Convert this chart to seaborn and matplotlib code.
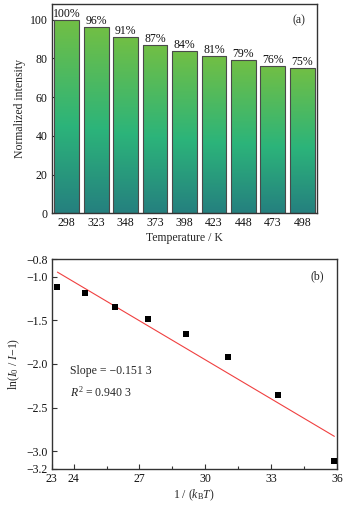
import numpy as np
import pandas as pd
import matplotlib
matplotlib.use("Agg")
import matplotlib.pyplot as plt
import seaborn as sns
from matplotlib.colors import LinearSegmentedColormap

# ---- data ----
temperatures = ["298", "323", "348", "373", "398", "423", "448", "473", "498"]
norm_intensity = [100, 96, 91, 87, 84, 81, 79, 76, 75]

inv_kT = [23.26, 24.50, 25.88, 27.41, 29.11, 31.05, 33.29, 35.88]
ln_ratio = [-1.12, -1.194, -1.351, -1.485, -1.657, -1.918, -2.354, -3.108]

sns.set_theme(style="ticks")
plt.rcParams["font.family"] = ["Liberation Serif", "DejaVu Serif"]
plt.rcParams["mathtext.fontset"] = "custom"
plt.rcParams["mathtext.rm"] = "Liberation Serif"
plt.rcParams["mathtext.it"] = "Liberation Serif:italic"
plt.rcParams["axes.unicode_minus"] = True

FS = 8.5
spine_c = "#333333"

fig = plt.figure(figsize=(3.55, 5.09), dpi=100)
W, H = 355, 509
ax1 = fig.add_axes([52 / W, 1 - 213.3 / H, (317 - 52) / W, (213.3 - 4) / H])
ax2 = fig.add_axes([51.7 / W, 1 - 469 / H, (337 - 51.7) / W, (469 - 259) / H])

# ---- (a) bar chart ----
df1 = pd.DataFrame({"T": temperatures, "I": norm_intensity})
sns.barplot(data=df1, x="T", y="I", ax=ax1, color="#6dbd45", width=0.84,
            edgecolor="#4a4a4a", linewidth=0.8)
cmap = LinearSegmentedColormap.from_list(
    "grad", [(0.0, "#25807f"), (0.45, "#2cb47a"), (1.0, "#72bf44")])
grad = np.linspace(0, 1, 256).reshape(-1, 1)
for p in ax1.patches:
    x0, y0 = p.get_x(), p.get_y()
    w, h = p.get_width(), p.get_height()
    im = ax1.imshow(grad, cmap=cmap, origin="lower", aspect="auto",
                    extent=(x0, x0 + w, y0, y0 + h), zorder=1.5)
    im.set_clip_path(p)
    p.set_facecolor("none")
    p.set_zorder(2)
ax1.bar_label(ax1.containers[0], labels=[f"{v}%" for v in norm_intensity],
              padding=0, fontsize=FS, color="#111111")
ax1.set_xlim(-0.5, len(temperatures) - 0.5)
ax1.set_ylim(0, 108)
ax1.set_yticks([0, 20, 40, 60, 80, 100])
ax1.set_xlabel("Temperature / K", fontsize=FS, labelpad=2)
ax1.set_ylabel("Normalized intensity", fontsize=FS, labelpad=3)
ax1.text(0.955, 0.92, "(a)", transform=ax1.transAxes, ha="right", va="center",
         fontsize=FS)

# ---- (b) fit ----
df2 = pd.DataFrame({"x": inv_kT, "y": ln_ratio})
sns.regplot(data=df2, x="x", y="y", ax=ax2, ci=None, scatter=False,
            color="#f04040", line_kws={"linewidth": 0.8})
sns.scatterplot(data=df2, x="x", y="y", ax=ax2, marker="s", s=16,
                color="black", edgecolor="black", linewidth=0, zorder=3)
ax2.set_xlim(23, 36)
ax2.set_ylim(-3.2, -0.8)
ax2.set_xticks([23, 24, 27, 30, 33, 36])
ax2.set_xticks([25.5, 28.5, 31.5, 34.5], minor=True)
ax2.set_yticks([-3.2, -3.0, -2.5, -2.0, -1.5, -1.0, -0.8])
ax2.set_yticklabels(["\u22123.2", "\u22123.0", "\u22122.5", "\u22122.0",
                     "\u22121.5", "\u22121.0", "\u22120.8"])
ax2.set_xlabel(r"1 / ($\mathit{k}_{\mathrm{B}}\mathit{T}$)", fontsize=FS, labelpad=2)
ax2.set_ylabel(r"ln($\mathit{I}_{0}$ / $\mathit{I}$$-$1)", fontsize=FS, labelpad=3)
ax2.text(0.065, 0.465, "Slope = \u22120.151 3", transform=ax2.transAxes,
         ha="left", va="center", fontsize=FS)
ax2.text(0.065, 0.365, r"$\mathit{R}^{2}$ = 0.940 3", transform=ax2.transAxes,
         ha="left", va="center", fontsize=FS)
ax2.text(0.955, 0.92, "(b)", transform=ax2.transAxes, ha="right", va="center",
         fontsize=FS)

for ax in (ax1, ax2):
    for s in ax.spines.values():
        s.set_visible(True)
        s.set_color(spine_c)
        s.set_linewidth(1.0)
    ax.tick_params(which="both", direction="in", top=False, right=False,
                   labelsize=FS, colors="#111111", pad=3)
    ax.tick_params(which="major", length=3.5, width=0.8, color=spine_c)
    ax.tick_params(which="minor", length=2, width=0.8, color=spine_c)
    ax.set_facecolor("white")
    ax.grid(False)

fig.savefig("out.png", dpi=100, facecolor="white")
